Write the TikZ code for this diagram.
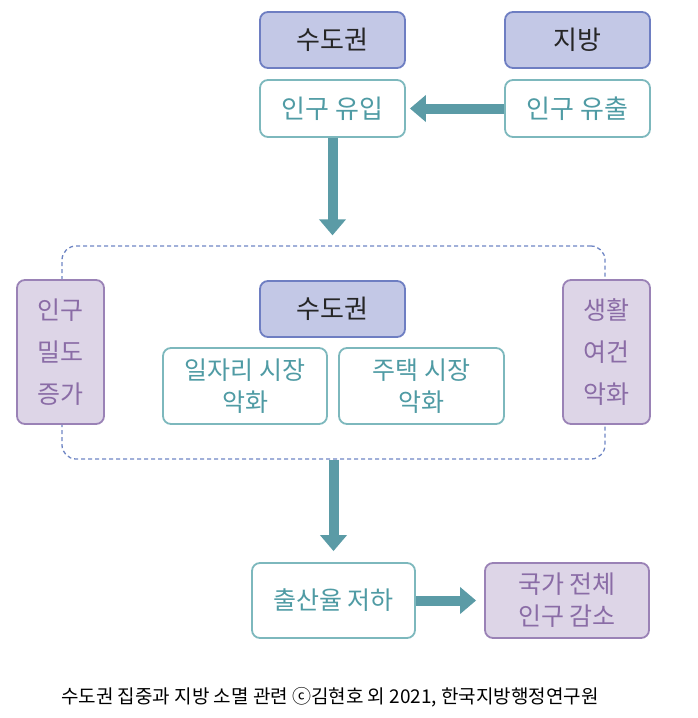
\documentclass[tikz,border=0pt]{standalone}
\usepackage{fontspec}
\setmainfont{Noto Sans CJK KR}
\usetikzlibrary{arrows.meta}
\definecolor{bluefill}{HTML}{C3C8E6}
\definecolor{blueline}{HTML}{6E7EC2}
\definecolor{tealline}{HTML}{7DB8BD}
\definecolor{tealtext}{HTML}{4F9BA4}
\definecolor{purfill}{HTML}{DDD5E7}
\definecolor{purline}{HTML}{9A82B6}
\definecolor{purtext}{HTML}{8A6CA6}
\definecolor{arrowc}{HTML}{5B9BA6}
\definecolor{dashc}{HTML}{6F86C4}
\tikzset{
  base/.style={rounded corners=8pt, line width=1.8pt, inner sep=0pt, align=center, font=\fontsize{26}{32}\selectfont},
  bluebox/.style={base, draw=blueline, fill=bluefill, text=black!85, minimum width=145pt, minimum height=56pt},
  tealbox/.style={base, draw=tealline, fill=white, text=tealtext},
  purbox/.style={base, draw=purline, fill=purfill, text=purtext},
  bigarrow/.style={draw=arrowc, line width=10pt, -{Triangle[length=16pt,width=26pt]}},
  region/.style={draw=dashc, dashed, dash pattern=on 4pt off 3pt, line width=1.3pt, rounded corners=14pt, minimum width=543pt, minimum height=213pt, inner sep=0pt}
}
\begin{document}
\begin{tikzpicture}[x=1pt,y=-1pt]
\useasboundingbox (0,0) rectangle (697,718);
% top
\node[bluebox] (sudo1) at (332.5,40) {수도권};
\node[bluebox] (jibang) at (577.5,40) {지방};
\node[tealbox, minimum width=145pt, minimum height=57pt] (yuip) at (332.5,108.5) {인구 유입};
\node[tealbox, minimum width=145pt, minimum height=57pt] (yuchul) at (577.5,108.5) {인구 유출};
% region
\node[region] (reg) at (333.5,352.5) {};
\node[purbox, minimum width=87pt, minimum height=144pt, font=\fontsize{25}{42}\selectfont] (mildo) at (60.5,352) {인구\\밀도\\증가};
\node[purbox, minimum width=87pt, minimum height=144pt, font=\fontsize{25}{42}\selectfont] (saenghwal) at (606.5,352) {생활\\여건\\악화};
\node[bluebox] (sudo2) at (332.5,309) {수도권};
\node[tealbox, minimum width=164pt, minimum height=76pt, font=\fontsize{25}{32}\selectfont] (ilja) at (245,386) {일자리 시장\\악화};
\node[tealbox, minimum width=165pt, minimum height=76pt, font=\fontsize{25}{32}\selectfont] (jutaek) at (421.5,386) {주택 시장\\악화};
% bottom
\node[tealbox, minimum width=163pt, minimum height=75pt, font=\fontsize{25}{32}\selectfont] (chulsan) at (333.5,600.5) {출산율 저하};
\node[purbox, minimum width=164pt, minimum height=75pt, font=\fontsize{25}{32}\selectfont] (gukga) at (567,600.5) {국가 전체\\인구 감소};
% arrows
\draw[bigarrow, shorten >=4pt] (yuchul.west) -- (yuip.east);
\draw[bigarrow, shorten >=10pt] (yuip.south) -- (yuip.south |- reg.north);
\draw[bigarrow, shorten >=11pt] (reg.south) -- (chulsan.north);
\draw[bigarrow, shorten >=8pt] (chulsan.east) -- (gukga.west);
% caption
\node[font=\fontsize{19}{22}\selectfont, text=black] (cap) at (330,697) {수도권 집중과 지방 소멸 관련 ⓒ김현호 외 2021, 한국지방행정연구원};
\end{tikzpicture}
\end{document}
